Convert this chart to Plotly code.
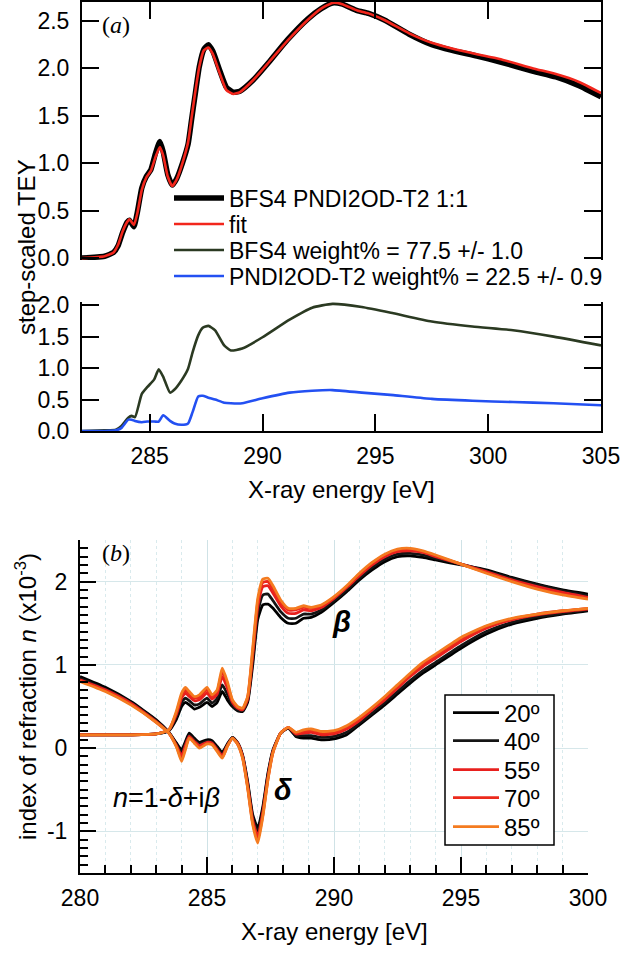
import plotly.graph_objects as go

W, H = 640, 953
FONT = "Liberation Sans, Arial, sans-serif"
SERIF = "Liberation Serif, Times New Roman, serif"


def px(x):
    return x / W


def py(y):
    return 1 - y / H


# ---------------- panel (a), upper: measured TEY and fit ----------------
E_top = [282, 283, 283.4, 283.6, 283.8, 284.0, 284.1, 284.3, 284.45, 284.65,
         284.85, 285.05, 285.25, 285.45, 285.6, 285.8, 286.0, 286.2, 286.45, 286.7,
         286.85, 287.0, 287.2, 287.4, 287.6, 287.8, 288.1, 288.4, 288.7, 289.0,
         289.6, 290.3, 291.1, 292.0, 292.6, 293.1, 293.5, 294.2, 294.7, 295.4,
         296.5, 297.5, 298.4, 299.5, 300.5, 302.0, 303.0, 304.0, 305.0]
tey_measured = [0.0, 0.02, 0.06, 0.13, 0.27, 0.38, 0.40, 0.33, 0.48, 0.74,
                0.86, 0.93, 1.10, 1.23, 1.12, 0.88, 0.77, 0.84, 1.00, 1.20,
                1.45, 1.70, 2.02, 2.20, 2.25, 2.18, 1.98, 1.80, 1.75, 1.76,
                1.88, 2.07, 2.30, 2.52, 2.63, 2.69, 2.68, 2.61, 2.58, 2.51,
                2.36, 2.25, 2.19, 2.13, 2.07, 1.97, 1.91, 1.82, 1.70]
tey_fit = [0.0, 0.02, 0.06, 0.14, 0.28, 0.38, 0.41, 0.35, 0.47, 0.72,
           0.85, 0.92, 1.06, 1.17, 1.08, 0.86, 0.76, 0.83, 1.00, 1.22,
           1.47, 1.72, 2.02, 2.19, 2.22, 2.15, 1.95, 1.77, 1.73, 1.75,
           1.88, 2.07, 2.29, 2.51, 2.63, 2.69, 2.68, 2.61, 2.58, 2.51,
           2.37, 2.27, 2.21, 2.15, 2.10, 2.00, 1.94, 1.86, 1.74]

# ---------------- panel (a), lower: fit components ----------------
E_comp = [282, 283, 283.5, 283.75, 284.05, 284.2, 284.35, 284.65, 284.9, 285.2,
          285.4, 285.6, 285.9, 286.1, 286.4, 286.7, 286.9, 287.15, 287.35, 287.6,
          287.9, 288.3, 288.6, 289.1, 290.0, 291.2, 292.2, 293.1, 294.4, 295.8,
          297.5, 299.3, 301.1, 302.9, 305.0]
bfs4_component = [0.0, 0.01, 0.02, 0.08, 0.21, 0.24, 0.22, 0.59, 0.70, 0.82,
                  0.98, 0.86, 0.61, 0.66, 0.80, 0.99, 1.25, 1.52, 1.64, 1.67,
                  1.60, 1.36, 1.28, 1.31, 1.49, 1.77, 1.96, 2.02, 1.97, 1.87,
                  1.74, 1.66, 1.60, 1.50, 1.36]
pndi_component = [0.0, 0.0, 0.01, 0.05, 0.18, 0.18, 0.16, 0.14, 0.15, 0.15,
                  0.15, 0.25, 0.16, 0.12, 0.10, 0.12, 0.30, 0.55, 0.56, 0.53,
                  0.50, 0.45, 0.44, 0.44, 0.52, 0.61, 0.64, 0.65, 0.61, 0.57,
                  0.51, 0.48, 0.46, 0.44, 0.41]

legend_a = ["BFS4 PNDI2OD-T2 1:1", "fit",
            "BFS4 weight% = 77.5 +/- 1.0", "PNDI2OD-T2 weight% = 22.5 +/- 0.9"]

# ---------------- panel (b): index of refraction ----------------
E_b = [280, 281, 282, 283, 283.5, 283.8, 284.0, 284.15, 284.3, 284.5,
       284.7, 285.0, 285.2, 285.4, 285.6, 285.8, 286.0, 286.2, 286.4, 286.6,
       286.8, 287.0, 287.2, 287.4, 287.6, 287.9, 288.2, 288.5, 288.8, 289.1,
       289.5, 290.0, 290.5, 291.0, 291.5, 292.0, 292.5, 293.0, 293.5, 294.0,
       295.0, 296.0, 297.0, 298.0, 299.0, 300.0]

angles = ["20º", "40º", "55º", "70º", "85º"]

beta_20 = [0.16, 0.16, 0.16, 0.17, 0.21, 0.35, 0.50, 0.55, 0.52, 0.47,
           0.49, 0.55, 0.50, 0.55, 0.68, 0.58, 0.50, 0.45, 0.44, 0.55,
           1.00, 1.55, 1.72, 1.73, 1.68, 1.57, 1.50, 1.50, 1.56, 1.57,
           1.63, 1.75, 1.88, 2.02, 2.14, 2.24, 2.30, 2.31, 2.29, 2.26,
           2.20, 2.14, 2.05, 1.97, 1.90, 1.85]
beta_40 = [0.16, 0.16, 0.16, 0.17, 0.21, 0.38, 0.55, 0.60, 0.57, 0.52,
           0.53, 0.60, 0.54, 0.60, 0.76, 0.65, 0.52, 0.46, 0.45, 0.57,
           1.06, 1.62, 1.84, 1.85, 1.77, 1.64, 1.56, 1.56, 1.61, 1.61,
           1.66, 1.77, 1.90, 2.04, 2.17, 2.27, 2.33, 2.34, 2.32, 2.28,
           2.21, 2.13, 2.04, 1.96, 1.89, 1.83]
beta_55 = [0.16, 0.16, 0.16, 0.17, 0.22, 0.41, 0.60, 0.66, 0.62, 0.57,
           0.58, 0.66, 0.59, 0.65, 0.86, 0.72, 0.55, 0.48, 0.46, 0.59,
           1.12, 1.70, 1.94, 1.95, 1.86, 1.71, 1.62, 1.62, 1.66, 1.65,
           1.69, 1.80, 1.93, 2.07, 2.20, 2.30, 2.36, 2.37, 2.35, 2.30,
           2.21, 2.12, 2.02, 1.94, 1.87, 1.81]
beta_70 = [0.16, 0.16, 0.16, 0.17, 0.22, 0.43, 0.63, 0.70, 0.65, 0.60,
           0.61, 0.70, 0.62, 0.68, 0.92, 0.77, 0.57, 0.49, 0.47, 0.61,
           1.16, 1.76, 1.99, 2.00, 1.91, 1.75, 1.66, 1.66, 1.69, 1.68,
           1.71, 1.81, 1.94, 2.09, 2.22, 2.32, 2.38, 2.39, 2.36, 2.31,
           2.21, 2.11, 2.01, 1.92, 1.85, 1.80]
beta_85 = [0.16, 0.16, 0.16, 0.17, 0.22, 0.45, 0.66, 0.73, 0.68, 0.62,
           0.64, 0.73, 0.64, 0.70, 0.96, 0.80, 0.58, 0.50, 0.48, 0.62,
           1.20, 1.80, 2.03, 2.04, 1.95, 1.78, 1.68, 1.68, 1.71, 1.69,
           1.72, 1.82, 1.95, 2.10, 2.23, 2.33, 2.39, 2.40, 2.37, 2.32,
           2.21, 2.10, 2.00, 1.91, 1.84, 1.79]

delta_20 = [0.86, 0.73, 0.56, 0.34, 0.19, 0.06, -0.02, 0.08, 0.18, 0.12,
            0.07, 0.10, 0.09, 0.02, -0.05, 0.05, 0.13, 0.07, -0.08, -0.40,
            -0.80, -0.96, -0.70, -0.30, -0.02, 0.18, 0.24, 0.14, 0.12, 0.12,
            0.10, 0.11, 0.16, 0.28, 0.40, 0.52, 0.65, 0.78, 0.90, 1.00,
            1.20, 1.37, 1.49, 1.56, 1.61, 1.65]
delta_40 = [0.84, 0.71, 0.55, 0.33, 0.19, 0.05, -0.05, 0.06, 0.16, 0.10,
            0.05, 0.08, 0.07, 0.00, -0.07, 0.04, 0.13, 0.06, -0.09, -0.42,
            -0.83, -1.01, -0.73, -0.32, -0.03, 0.18, 0.24, 0.15, 0.15, 0.15,
            0.13, 0.14, 0.19, 0.30, 0.42, 0.55, 0.68, 0.81, 0.93, 1.03,
            1.23, 1.40, 1.51, 1.58, 1.62, 1.66]
delta_55 = [0.82, 0.70, 0.54, 0.32, 0.18, 0.03, -0.09, 0.03, 0.14, 0.08,
            0.03, 0.07, 0.06, -0.02, -0.09, 0.03, 0.12, 0.06, -0.10, -0.45,
            -0.87, -1.06, -0.77, -0.35, -0.04, 0.18, 0.25, 0.17, 0.18, 0.19,
            0.16, 0.17, 0.23, 0.33, 0.46, 0.58, 0.72, 0.86, 0.98, 1.08,
            1.28, 1.44, 1.54, 1.60, 1.64, 1.67]
delta_70 = [0.81, 0.69, 0.53, 0.31, 0.18, 0.02, -0.13, 0.00, 0.13, 0.07,
            0.01, 0.06, 0.05, -0.03, -0.11, 0.02, 0.12, 0.05, -0.11, -0.47,
            -0.90, -1.10, -0.80, -0.37, -0.05, 0.18, 0.25, 0.18, 0.20, 0.21,
            0.18, 0.19, 0.25, 0.35, 0.48, 0.60, 0.74, 0.88, 1.01, 1.11,
            1.31, 1.46, 1.55, 1.61, 1.65, 1.68]
delta_85 = [0.80, 0.68, 0.52, 0.31, 0.18, 0.01, -0.16, -0.02, 0.12, 0.06,
            0.00, 0.05, 0.04, -0.04, -0.12, 0.02, 0.12, 0.05, -0.12, -0.48,
            -0.92, -1.14, -0.82, -0.38, -0.05, 0.18, 0.25, 0.19, 0.22, 0.23,
            0.20, 0.21, 0.27, 0.37, 0.49, 0.62, 0.76, 0.90, 1.03, 1.13,
            1.33, 1.47, 1.56, 1.61, 1.65, 1.68]

betas = [beta_20, beta_40, beta_55, beta_70, beta_85]
deltas = [delta_20, delta_40, delta_55, delta_70, delta_85]

ticks_a_top = [0.0, 0.5, 1.0, 1.5, 2.0, 2.5]
ticks_a_bot = [0.0, 0.5, 1.0, 1.5, 2.0]
ticks_b_y = [-1, 0, 1, 2]
ticks_b_y_text = ["-1", "0", "1", "2"]

# ---------------- styles ----------------
angle_colors = ["#000000", "#151515", "#e8201e", "#ec2a1c", "#f47b20"]
SPL = dict(shape="spline", smoothing=0.5)

fig = go.Figure()

fig.add_trace(go.Scatter(x=E_top, y=tey_measured, mode="lines", name=legend_a[0],
                         line=dict(color="black", width=5.5, **SPL),
                         xaxis="x2", yaxis="y", legend="legend", showlegend=True))
fig.add_trace(go.Scatter(x=E_top, y=tey_fit, mode="lines", name=legend_a[1],
                         line=dict(color="#f2261c", width=2.6, **SPL),
                         xaxis="x2", yaxis="y", legend="legend2"))
fig.add_trace(go.Scatter(x=E_comp, y=bfs4_component, mode="lines", name=legend_a[2],
                         line=dict(color="#2b3a22", width=2.6, **SPL),
                         xaxis="x", yaxis="y2", legend="legend3"))
fig.add_trace(go.Scatter(x=E_comp, y=pndi_component, mode="lines", name=legend_a[3],
                         line=dict(color="#2350f2", width=2.6, **SPL),
                         xaxis="x", yaxis="y2", legend="legend4"))

for i, (lab, col) in enumerate(zip(angles, angle_colors)):
    fig.add_trace(go.Scatter(x=E_b, y=betas[i], mode="lines", name=lab,
                             line=dict(color=col, width=2.8, **SPL),
                             xaxis="x3", yaxis="y3", legendgroup=lab,
                             legend="legend%d" % (5 + i)))
    fig.add_trace(go.Scatter(x=E_b, y=deltas[i], mode="lines", name=lab,
                             line=dict(color=col, width=2.8, **SPL),
                             xaxis="x3", yaxis="y3", legendgroup=lab,
                             showlegend=False, legend="legend%d" % (5 + i)))

TS = 23
tickfont = dict(family=FONT, size=TS, color="black")
axline = dict(showline=True, linecolor="black", linewidth=2, ticks="inside",
              tickcolor="black", tickwidth=2, zeroline=False, showgrid=False)

layout = dict(
    width=W, height=H,
    margin=dict(l=0, r=0, t=0, b=0, autoexpand=False),
    showlegend=True,
    paper_bgcolor="white", plot_bgcolor="white",
    font=dict(family=FONT, color="black", size=TS),
    # panel (a)
    xaxis=dict(domain=[px(82), px(601)], anchor="y2", range=[282, 305],
               tickvals=[285, 290, 295, 300, 305], ticklen=17, tickfont=tickfont,
               ticklabelstandoff=3, mirror=False, **axline),
    xaxis2=dict(domain=[px(82), px(601)], anchor="y", range=[282, 305], side="top",
                tickvals=[285, 290, 295, 300, 305], ticklen=17, showticklabels=False,
                mirror=False, **axline),
    yaxis=dict(domain=[py(260), py(2)], anchor="x2", range=[-0.02, 2.70],
               tickvals=ticks_a_top, tickformat=".1f", ticklen=17, tickfont=tickfont,
               ticklabelstandoff=6, mirror="ticks", **axline),
    yaxis2=dict(domain=[py(431), py(302)], anchor="x", range=[0, 2.05],
                tickvals=ticks_a_bot, tickformat=".1f", ticklen=17, tickfont=tickfont,
                ticklabelstandoff=6, mirror="ticks", **axline),
    # panel (b)
    xaxis3=dict(domain=[px(80), px(588)], anchor="y3", range=[280, 300],
                showline=True, linecolor="black", linewidth=2, ticks="inside",
                tickcolor="black", tickwidth=2, ticklen=16, zeroline=False,
                dtick=5, tick0=280, tickfont=tickfont, ticklabelstandoff=3,
                showgrid=True, gridcolor="#cfe2e6", gridwidth=1,
                minor=dict(dtick=1, tick0=280, ticks="inside", ticklen=8,
                           tickcolor="black", tickwidth=1.5, showgrid=True,
                           gridcolor="#d9eaed", griddash="dot", gridwidth=1)),
    yaxis3=dict(domain=[py(873), py(540)], anchor="x3", range=[-1.5, 2.5],
                showline=True, linecolor="black", linewidth=2, ticks="inside",
                tickcolor="black", tickwidth=2, ticklen=16, zeroline=False,
                tickmode="array", tickvals=ticks_b_y, ticktext=ticks_b_y_text,
                tickfont=tickfont, ticklabelstandoff=6,
                showgrid=True, gridcolor="#d6e7ea", gridwidth=1,
                minor=dict(tickmode="linear", tick0=0, dtick=0.1, ticks="inside",
                           ticklen=8, tickcolor="black", tickwidth=1.5, showgrid=False)),
)

# legends: one per entry so rows sit where the reference has them
leg_font_a = dict(family=FONT, size=23, color="black")
leg_font_b = dict(family=FONT, size=24, color="black")
for name, ycen in zip(["legend", "legend2", "legend3", "legend4"], [198, 224, 250, 276]):
    layout[name] = dict(x=px(169), y=py(ycen), xref="container", yref="container",
                        xanchor="left", yanchor="middle",
                        bgcolor="rgba(0,0,0,0)", borderwidth=0, itemwidth=50,
                        font=leg_font_a)
for i, ycen in enumerate([713, 741, 770, 798, 827]):
    layout["legend%d" % (5 + i)] = dict(x=px(448), y=py(ycen), xref="container",
                                        yref="container", xanchor="left",
                                        yanchor="middle", bgcolor="rgba(0,0,0,0)",
                                        borderwidth=0, itemwidth=46, font=leg_font_b)

fig.update_layout(**layout)

# legend box of panel (b)
fig.add_shape(type="rect", xref="paper", yref="paper",
              x0=px(445), x1=px(554), y0=py(845), y1=py(695),
              line=dict(color="black", width=1.5), fillcolor="white", layer="above")


def note(text, x, y, size, family=FONT, angle=0, xref="paper", yref="paper"):
    return dict(text=text, x=x, y=y, xref=xref, yref=yref, textangle=angle,
                xanchor="center", yanchor="middle", showarrow=False,
                font=dict(family=family, size=size, color="black"))


ann = [
    note("step-scaled TEY", px(27), py(247), 24, angle=-90),
    note("X-ray energy [eV]", px(341), py(489), 24),
    note("X-ray energy [eV]", px(334), py(931), 24),
    note("index of refraction <i>n</i> (x10<sup>-3</sup>)", px(26), py(697), 24, angle=-90),
    note("(<i>a</i>)", px(116), py(25), 24, family=SERIF),
    note("(<i>b</i>)", px(116), py(553), 24, family=SERIF),
    note("<i>n</i>=1-<i>δ</i>+i<i>β</i>", 283.4, -0.6, 27, xref="x3", yref="y3"),
    note("<b><i>β</i></b>", 290.3, 1.52, 29, xref="x3", yref="y3"),
    note("<b><i>δ</i></b>", 288.0, -0.5, 29, xref="x3", yref="y3"),
]
fig.update_layout(annotations=ann)

fig.write_html("out.html", post_script="document.body.style.margin='0';",
               config={"displayModeBar": False})
